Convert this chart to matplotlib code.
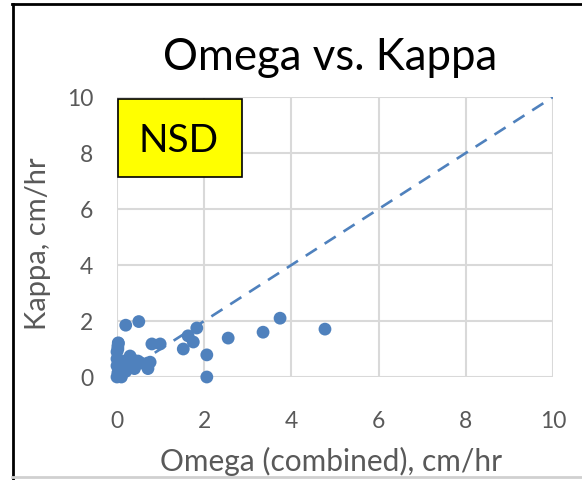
import numpy as np
import matplotlib
matplotlib.use("Agg")
import matplotlib.pyplot as plt
from matplotlib.patches import Rectangle

# omega (combined) vs kappa, cm/hr
omega = [0.0, 0.02, 0.0, 0.0, 0.0, 0.02, 0.05, 0.1, 0.18, 0.2, 0.34, 0.48, 0.4,
         0.03, 0.25, 0.3, 0.12, 0.08, 0.55,
         0.2, 0.5, 0.03, 0.02, 0.8, 0.99, 0.76, 0.71,
         1.52, 1.63, 1.75, 1.83, 2.06, 2.06, 2.55, 3.35, 3.74, 4.77]
kappa = [0.0, 0.15, 0.4, 0.65, 0.9, 1.1, 0.05, 0.0, 0.57, 0.2, 0.64, 0.57, 0.3,
         1.22, 0.45, 0.75, 0.35, 0.55, 0.5,
         1.85, 1.98, 1.2, 1.0, 1.18, 1.18, 0.53, 0.3,
         1.0, 1.47, 1.25, 1.75, 0.79, 0.0, 1.39, 1.6, 2.1, 1.71]
one_to_one = [0, 10]
ticks = [0, 2, 4, 6, 8, 10]

blue = "#4F81BD"
grey = "#595959"
plt.rcParams['font.family'] = ['Lato', 'DejaVu Sans']

fig = plt.figure(figsize=(5.82, 4.81), dpi=100)
ax = fig.add_axes([117/582, 103/481, 436/582, 280/481])

ax.plot(one_to_one, one_to_one, color=blue, lw=1.9, ls=(0, (5, 3.5)), zorder=2)
ax.scatter(omega, kappa, s=85, color=blue, edgecolors="none", zorder=3, clip_on=False)

ax.set_xlim(0, 10)
ax.set_ylim(0, 10)
ax.set_xticks(ticks)
ax.set_yticks(ticks)
ax.grid(True, color="#D9D9D9", lw=1.5)
ax.set_axisbelow(True)
for s in ax.spines.values():
    s.set_visible(False)
ax.tick_params(length=0, labelsize=16.5, labelcolor=grey)
ax.tick_params(axis="x", pad=24)
ax.tick_params(axis="y", pad=17)

ax.set_xlabel("Omega (combined), cm/hr", fontsize=21.5, color=grey)
ax.set_ylabel("Kappa, cm/hr", fontsize=21, color=grey)
ax.xaxis.set_label_coords(0.49, -0.245)
ax.yaxis.set_label_coords(-0.152, 0.48)

fig.text(330/582, 1 - 70/481, "Omega vs. Kappa", fontsize=31.5, ha="center", va="baseline")

# NSD label box
fig.patches.append(Rectangle((118/582, 1 - 178/481), 124/582, 78/481,
                             transform=fig.transFigure, facecolor="#FFFF00",
                             edgecolor="black", lw=1.2, zorder=5))
fig.text(179/582, 1 - 152/481, "NSD", fontsize=28, ha="center", va="baseline", zorder=6)

# outer chart frame
fig.add_artist(plt.Line2D([12.5/582, 12.5/582], [0, 1 - 5/481], transform=fig.transFigure, color="black", lw=2))
fig.add_artist(plt.Line2D([12/582, 1], [1 - 5/481, 1 - 5/481], transform=fig.transFigure, color="black", lw=2))
fig.add_artist(plt.Line2D([12/582, 1], [3/481, 3/481], transform=fig.transFigure, color="#D0D0D0", lw=2))

fig.savefig("out.png", dpi=100)
